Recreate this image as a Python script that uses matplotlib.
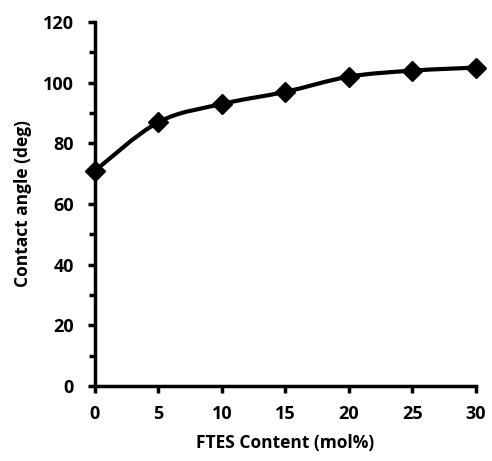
import matplotlib.pyplot as plt
import numpy as np
from matplotlib.path import Path
from matplotlib.patches import PathPatch
from matplotlib.ticker import MultipleLocator

# data
ftes = [0, 5, 10, 15, 20, 25, 30]
angle = [71, 87, 93, 97, 102, 104, 105]

plt.rcParams['font.family'] = ['Open Sans', 'DejaVu Sans']
plt.rcParams['font.weight'] = 'bold'

fig = plt.figure(figsize=(4.92, 4.61), dpi=100)
ax = fig.add_axes([0.193, 0.163, 0.774, 0.789])

# smoothed line (Catmull-Rom as cubic Bezier segments, like Excel's smooth line)
x = np.array(ftes, dtype=float)
y = np.array(angle, dtype=float)
verts = [(x[0], y[0])]
codes = [Path.MOVETO]
n = len(x)
for i in range(n - 1):
    p0 = (x[max(i - 1, 0)], y[max(i - 1, 0)])
    p1 = (x[i], y[i])
    p2 = (x[i + 1], y[i + 1])
    p3 = (x[min(i + 2, n - 1)], y[min(i + 2, n - 1)])
    c1 = (p1[0] + (p2[0] - p0[0]) / 6, p1[1] + (p2[1] - p0[1]) / 6)
    c2 = (p2[0] - (p3[0] - p1[0]) / 6, p2[1] - (p3[1] - p1[1]) / 6)
    verts += [c1, c2, p2]
    codes += [Path.CURVE4] * 3
ax.add_patch(PathPatch(Path(verts, codes), facecolor='none', edgecolor='black',
                       linewidth=3, clip_on=False, zorder=3))
ax.plot(ftes, angle, linestyle='none', marker='D', markersize=10, color='black',
        clip_on=False, zorder=4)

ax.set_xlim(0, 30)
ax.set_ylim(0, 120)
ax.xaxis.set_major_locator(MultipleLocator(5))
ax.yaxis.set_major_locator(MultipleLocator(20))
ax.yaxis.set_minor_locator(MultipleLocator(10))

for s in ['top', 'right']:
    ax.spines[s].set_visible(False)
for s in ['left', 'bottom']:
    ax.spines[s].set_linewidth(2.5)

ax.tick_params(axis='both', which='major', direction='out', length=5, width=2.5,
               labelsize=13)
ax.tick_params(axis='x', which='major', pad=9)
ax.tick_params(axis='y', which='major', pad=10)
ax.tick_params(axis='y', which='minor', direction='out', length=4, width=2.5)

ax.set_xlabel('FTES Content (mol%)', fontsize=12.5, fontweight='bold', labelpad=8)
ax.set_ylabel('Contact angle (deg)', fontsize=12.5, fontweight='bold', labelpad=8)

fig.savefig('out.png', dpi=100)
